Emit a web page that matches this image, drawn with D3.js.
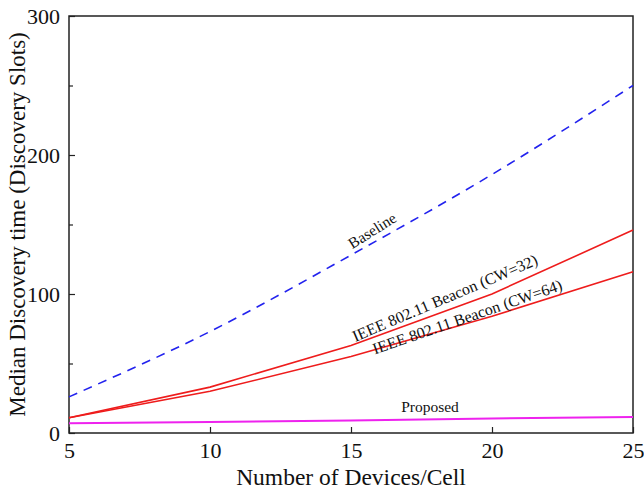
<!DOCTYPE html>
<html><head><meta charset="utf-8">
<script src="https://cdn.jsdelivr.net/npm/d3@7"></script>
<style>body{margin:0;background:#fff}svg{display:block}text{font-family:"Liberation Serif","Times New Roman",Times,serif;fill:#111}</style>
</head><body>
<svg id="c" width="644" height="489"></svg>
<script>
const devices = [5, 10, 15, 20, 25];
const baseline = [26, 73, 128, 186, 250];
const cw32 = [11, 33, 63, 100, 146];
const cw64 = [11, 30, 55, 84, 116];
const proposed = [7, 8, 9, 10.5, 11.5];
const xTicks = [5, 10, 15, 20, 25];
const yTicks = [0, 100, 200, 300];
const yMinor = [50, 150, 250];

const svg = d3.select("#c");
const m = {l: 69, r: 633, t: 16, b: 433};
const x = d3.scaleLinear().domain([5, 25]).range([m.l, m.r]);
const y = d3.scaleLinear().domain([0, 300]).range([m.b, m.t]);

svg.append("rect").attr("x", m.l).attr("y", m.t).attr("width", m.r - m.l).attr("height", m.b - m.t)
  .attr("fill", "none").attr("stroke", "#222").attr("stroke-width", 1.5);

const xa = svg.append("g").attr("transform", `translate(0,${m.b})`)
  .call(d3.axisBottom(x).tickValues(xTicks).tickSize(-6).tickPadding(9).tickFormat(d3.format("d")));
xa.select(".domain").remove();
xa.selectAll("line").attr("stroke", "#222").attr("stroke-width", 1.2);
xa.selectAll("text").style("font-size", "22px").attr("fill", "#111");

const ya = svg.append("g").attr("transform", `translate(${m.l},0)`)
  .call(d3.axisLeft(y).tickValues(yTicks).tickSize(-6).tickPadding(9).tickFormat(d3.format("d")));
ya.select(".domain").remove();
ya.selectAll("line").attr("stroke", "#222").attr("stroke-width", 1.2);
ya.selectAll("text").style("font-size", "22px").attr("fill", "#111");
const ym = svg.append("g").attr("transform", `translate(${m.l},0)`)
  .call(d3.axisLeft(y).tickValues(yMinor).tickSize(-4).tickFormat(""));
ym.select(".domain").remove();
ym.selectAll("line").attr("stroke", "#222").attr("stroke-width", 1.2);

svg.append("text").attr("x", (m.l + m.r) / 2).attr("y", 485).attr("text-anchor", "middle")
  .style("font-size", "23.5px").text("Number of Devices/Cell");
svg.append("text").attr("transform", `translate(25,${(m.t + m.b) / 2}) rotate(-90)`)
  .attr("text-anchor", "middle").style("font-size", "23px").text("Median Discovery time (Discovery Slots)");

const line = d3.line().x((d, i) => x(devices[i])).y(d => y(d));
const smooth = d3.line().x((d, i) => x(devices[i])).y(d => y(d)).curve(d3.curveMonotoneX);
function draw(data, gen, color, dash, w) {
  svg.append("path").datum(data).attr("d", gen).attr("fill", "none")
    .attr("stroke", color).attr("stroke-width", w).attr("stroke-dasharray", dash);
}
draw(proposed, line, "#ee22ee", null, 2);
draw(cw64, line, "#ee1c1c", null, 1.6);
draw(cw32, line, "#ee1c1c", null, 1.6);
draw(baseline, smooth, "#2222ee", "9,7", 1.6);

function label(t, cx, cy, ang, fs) {
  svg.append("text").attr("transform", `translate(${cx},${cy}) rotate(${ang})`)
    .attr("text-anchor", "middle").style("font-size", fs + "px").text(t);
}
label("Baseline", 375, 235, -32, 15.5);
label("IEEE 802.11 Beacon (CW=32)", 447, 303, -23, 16);
label("IEEE 802.11 Beacon (CW=64)", 469, 322, -19, 16);
label("Proposed", 430, 412, 0, 15.5);
</script>
</body></html>
